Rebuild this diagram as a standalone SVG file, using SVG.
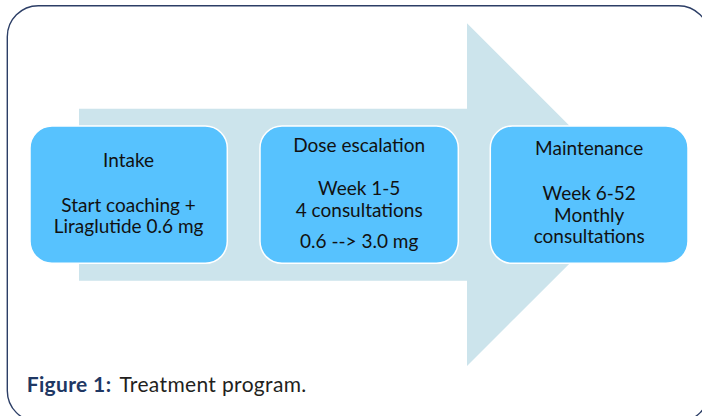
<svg xmlns="http://www.w3.org/2000/svg" width="702" height="416" viewBox="0 0 702 416">
<style>
.t{font-family:Lato,"Open Sans","Liberation Sans",sans-serif;font-size:19px;fill:#111;text-anchor:middle}
.box{fill:#57c2fe;stroke:#ffffff;stroke-width:1.5}
.cap{font-family:Lato,"Open Sans","Liberation Sans",sans-serif;font-size:21px;letter-spacing:0.35px}
</style>
<rect width="702" height="416" fill="#ffffff"/>
<rect x="7.3" y="5.7" width="702" height="416" rx="31" ry="31" fill="none" stroke="#2c3e66" stroke-width="1.4"/>
<g id="connectors">
<polygon points="79,108.7 467,108.7 467,23.3 638.5,194.7 467,366 467,280.7 79,280.7" fill="#cce4ec"/>
</g>
<g id="intake">
<rect class="box" x="30" y="126" width="197.3" height="137.3" rx="22"/>
<text class="t" x="128.6" y="166.7">Intake</text>
<text class="t" x="128.6" y="211.7">Start coaching +</text>
<text class="t" x="128.6" y="233.3">Liraglutide 0.6 mg</text>
</g>
<g id="dose">
<rect class="box" x="260" y="126" width="198.3" height="137.3" rx="22"/>
<text class="t" x="359.2" y="151.7">Dose escalation</text>
<text class="t" x="359.2" y="195">Week 1-5</text>
<text class="t" x="359.2" y="216.7">4 consultations</text>
<text class="t" x="359.2" y="248.3">0.6 --&gt; 3.0 mg</text>
</g>
<g id="maintenance">
<rect class="box" x="490.3" y="126" width="197.7" height="137.3" rx="22"/>
<text class="t" x="589.2" y="155">Maintenance</text>
<text class="t" x="589.2" y="200">Week 6-52</text>
<text class="t" x="589.2" y="221.7">Monthly</text>
<text class="t" x="589.2" y="243.3">consultations</text>
</g>
<g id="caption">
<text class="cap" x="26.7" y="391.7"><tspan font-weight="bold" fill="#1f3864">Figure 1:</tspan><tspan fill="#231f20" dx="8">Treatment program.</tspan></text>
</g>
</svg>
